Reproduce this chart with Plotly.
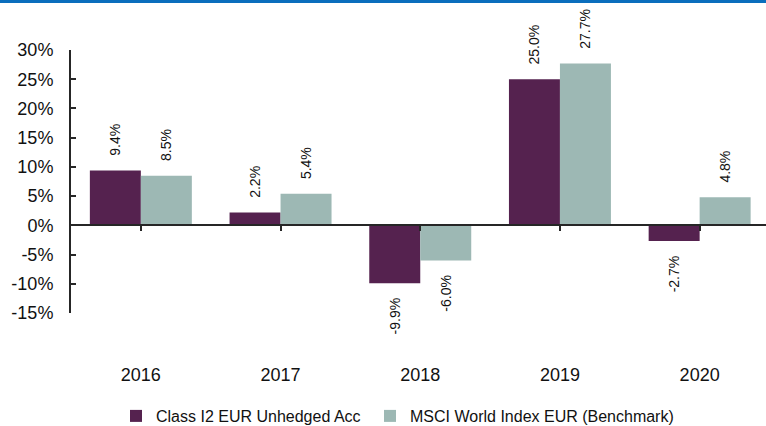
import plotly.graph_objects as go

years = ["2016", "2017", "2018", "2019", "2020"]
fund_name = "Class I2 EUR Unhedged Acc"
bench_name = "MSCI World Index EUR (Benchmark)"
fund_values = [9.4, 2.2, -9.9, 25.0, -2.7]
bench_values = [8.5, 5.4, -6.0, 27.7, 4.8]
y_tick_values = [-15, -10, -5, 0, 5, 10, 15, 20, 25, 30]
y_tick_labels = ["-15%", "-10%", "-5%", "0%", "5%", "10%", "15%", "20%", "25%", "30%"]

PURPLE = "#55224F"
TEAL = "#9DB8B4"
TEXT = "#111111"
AXIS = "#262626"
NB = "\u00a0"

W, H = 766, 426
ML, MR, MT, MB = 71, 0, 50, 113
PH = H - MT - MB
PW = W - ML - MR


def labels(vals):
    out = []
    for v in vals:
        s = f"{v:.1f}%"
        out.append(NB * 3 + s if v >= 0 else s + NB * 3)
    return out


fig = go.Figure()
for name, vals, col in [(fund_name + NB, fund_values, PURPLE), (bench_name, bench_values, TEAL)]:
    fig.add_trace(go.Bar(
        x=years, y=vals, name=name,
        marker=dict(color=col, line=dict(width=0)),
        text=labels(vals), textposition="outside", textangle=-90,
        textfont=dict(family="Liberation Sans, Arial", size=14, color=TEXT),
        constraintext="none", cliponaxis=False,
    ))

fig.update_layout(
    width=W, height=H,
    margin=dict(l=ML, r=MR, t=MT, b=MB, pad=0, autoexpand=False),
    paper_bgcolor="white", plot_bgcolor="white",
    barmode="group", bargap=0.27, bargroupgap=0,
    font=dict(family="Liberation Sans, Arial", color=TEXT),
    showlegend=True,
    legend=dict(
        orientation="h", x=(116 - ML) / PW, xanchor="left",
        y=-(416 - (MT + PH)) / PH, yanchor="middle",
        font=dict(size=16, color=TEXT), itemwidth=30,
        traceorder="normal",
    ),
    xaxis=dict(
        type="category", categoryorder="array", categoryarray=years,
        range=[-0.5, 4.475],
        anchor="free", position=15 / 45,
        showline=True, linecolor=AXIS, linewidth=1.5,
        ticks="outside", ticklen=5, tickwidth=1.5, tickcolor=AXIS,
        showgrid=False, zeroline=False,
        tickfont=dict(size=18, color=TEXT),
        ticklabelstandoff=128,
    ),
    yaxis=dict(
        range=[-15, 30], tickmode="array", tickvals=y_tick_values, ticktext=y_tick_labels,
        showline=True, linecolor=AXIS, linewidth=2,
        ticks="inside", ticklen=5, tickwidth=2, tickcolor=AXIS,
        showgrid=False, zeroline=False,
        tickfont=dict(size=18, color=TEXT),
        ticklabelstandoff=12,
    ),
    shapes=[dict(
        type="rect", xref="paper", yref="paper",
        x0=-ML / PW, x1=1.0, y0=1 + (MT - 3) / PH, y1=1 + MT / PH,
        fillcolor="#0A6EBD", line=dict(width=0), layer="above",
    )],
)

fig.write_html("out.html", config={"displayModeBar": False},
               post_script="document.body.style.margin='0';")
